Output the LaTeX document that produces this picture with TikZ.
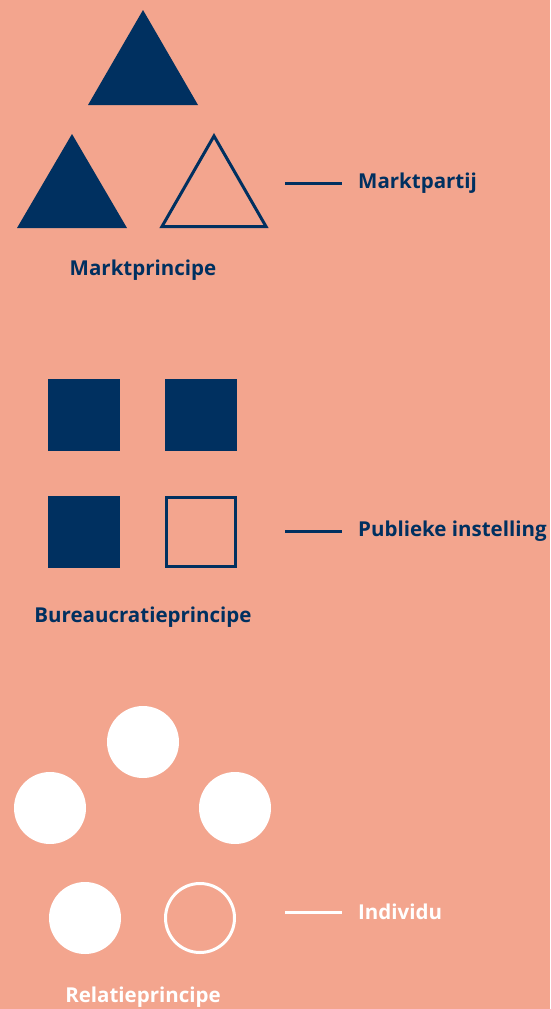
\documentclass[tikz,border=0pt]{standalone}
\usepackage{fontspec}
\setmainfont{Open Sans}
\definecolor{bg}{RGB}{243,165,142}
\definecolor{navy}{RGB}{0,48,96}
\begin{document}
\begin{tikzpicture}[x=1pt,y=-1pt,
  solidshape/.style={fill=navy},
  hollowshape/.style={draw=navy,line width=3pt},
  lbl/.style={font=\fontsize{20.5}{24}\selectfont\bfseries,text=navy,inner sep=0pt},
  leader/.style={draw=navy,line width=3pt},
  wlbl/.style={lbl,text=white},
  wleader/.style={draw=white,line width=3pt}]
\fill[bg] (0,0) rectangle (550,1009);
\useasboundingbox (0,0) rectangle (550,1009);
% Market
\fill[solidshape] (143,10) -- (198,105) -- (88,105) -- cycle;
\fill[solidshape] (72,134) -- (127,228) -- (17,228) -- cycle;
\draw[hollowshape,line join=miter] (214,136) -- (266,226.5) -- (162,226.5) -- cycle;
\coordinate (m1) at (285,183);
\node[lbl,anchor=west] (marktpartij) at (358,183) {Marktpartij};
\draw[leader] (m1) -- (342,183);
\node[lbl] (marktprincipe) at (143,270) {Marktprincipe};
% Bureaucracy
\fill[solidshape] (48,379) rectangle (120,451);
\fill[solidshape] (165,379) rectangle (237,451);
\fill[solidshape] (48,496) rectangle (120,568);
\draw[hollowshape] (166.5,497.5) rectangle (235.5,566.5);
\coordinate (b1) at (285,531);
\node[lbl,anchor=west] (publiek) at (358,531) {Publieke instelling};
\draw[leader] (b1) -- (342,531);
\node[lbl] (bureau) at (143,617) {Bureaucratieprincipe};
% Relation
\fill[white] (143,742) circle (36);
\fill[white] (50,808) circle (36);
\fill[white] (235,808) circle (36);
\fill[white] (85,918) circle (36);
\draw[white,line width=3pt] (200,918) circle (34.5);
\coordinate (r1) at (285,912);
\node[wlbl,anchor=west] (individu) at (358,912) {Individu};
\draw[wleader] (r1) -- (342,912);
\node[wlbl] (relatie) at (143,997) {Relatieprincipe};
\end{tikzpicture}
\end{document}
